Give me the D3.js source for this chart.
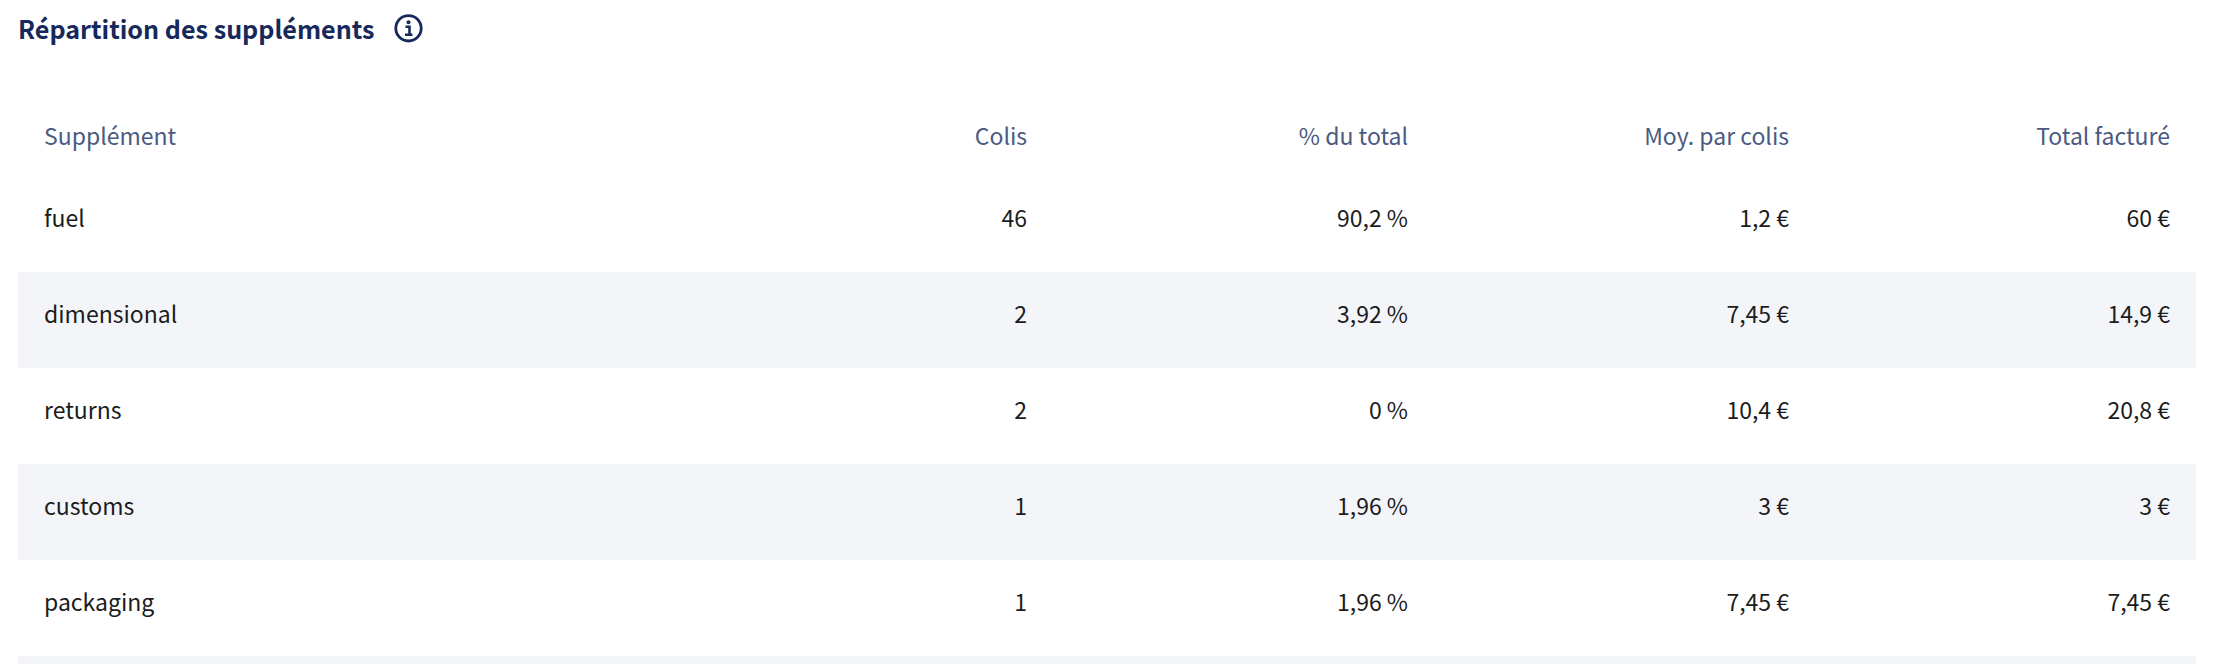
<!DOCTYPE html>
<html lang="fr">
<head>
<meta charset="utf-8">
<title>Répartition des suppléments</title>
<script src="https://cdn.jsdelivr.net/npm/d3@7"></script>
<style>
html,body{margin:0;padding:0;background:#fff;overflow:hidden}
svg{display:block}
text{font-family:"Noto Sans CJK JP","Noto Sans CJK SC","Noto Sans",sans-serif}
</style>
</head>
<body>
<svg id="c" width="2216" height="664"></svg>
<script>
const titleText = "Répartition des suppléments";
const headers = ["Supplément", "Colis", "% du total", "Moy. par colis", "Total facturé"];
const categories = ["fuel", "dimensional", "returns", "customs", "packaging"];
const colis = [46, 2, 2, 1, 1];
const pctTotal = [90.2, 3.92, 0, 1.96, 1.96];
const moyParColis = [1.2, 7.45, 10.4, 3, 7.45];
const totalFacture = [60, 14.9, 20.8, 3, 7.45];

const W = 2216, H = 664;
const svg = d3.select("#c");
const frNum = v => String(v).replace(".", ",");
const formats = [d => d, d => frNum(d), d => frNum(d) + " %", d => frNum(d) + " €", d => frNum(d) + " €"];

// Rows: the five categories plus the next striped row, cut by the window
const rowKeys = categories.concat(["__next"]);
const y = d3.scaleBand().domain(rowKeys).range([176, 176 + 96 * rowKeys.length]);
const x = d3.scalePoint().domain(headers.slice(1)).range([1027, 2170]);

svg.selectAll("rect.stripe")
  .data(rowKeys.filter((d, i) => i % 2 === 1))
  .join("rect").attr("class", "stripe")
  .attr("x", 18).attr("width", 2196 - 18)
  .attr("y", d => y(d)).attr("height", y.bandwidth())
  .attr("fill", "#f4f5f9");

// Title
svg.append("text").attr("x", 18).attr("y", 38.5)
  .attr("font-size", 25.1).attr("font-weight", 700).attr("fill", "#16295a").text(titleText);

// Info icon
const icon = svg.append("g").attr("transform", "translate(408.5,28.3)");
icon.append("circle").attr("r", 12.7).attr("fill", "none").attr("stroke", "#16295a").attr("stroke-width", 2.8);
icon.append("circle").attr("cx", 0).attr("cy", -6).attr("r", 2).attr("fill", "#16295a");
icon.append("path").attr("d", "M-3,-1.5H1V5.5M-3.5,6.5H4").attr("fill", "none").attr("stroke", "#16295a").attr("stroke-width", 2.6);

// Header
const headerY = 145;
svg.selectAll("text.h").data(headers).join("text").attr("class", "h")
  .attr("x", (d, i) => i === 0 ? 44 : x(d))
  .attr("y", headerY)
  .attr("text-anchor", (d, i) => i === 0 ? "start" : "end")
  .attr("font-size", 23).attr("fill", "#4a5a82").text(d => d);

// Body
const columns = [categories, colis, pctTotal, moyParColis, totalFacture];
columns.forEach((col, c) => {
  svg.selectAll("text.c" + c).data(col).join("text").attr("class", "c" + c)
    .attr("x", c === 0 ? 44 : x(headers[c]))
    .attr("y", (d, i) => y(categories[i]) + 51)
    .attr("text-anchor", c === 0 ? "start" : "end")
    .attr("font-size", 23).attr("fill", "#1c1c1c")
    .text(formats[c]);
});
</script>
</body>
</html>
